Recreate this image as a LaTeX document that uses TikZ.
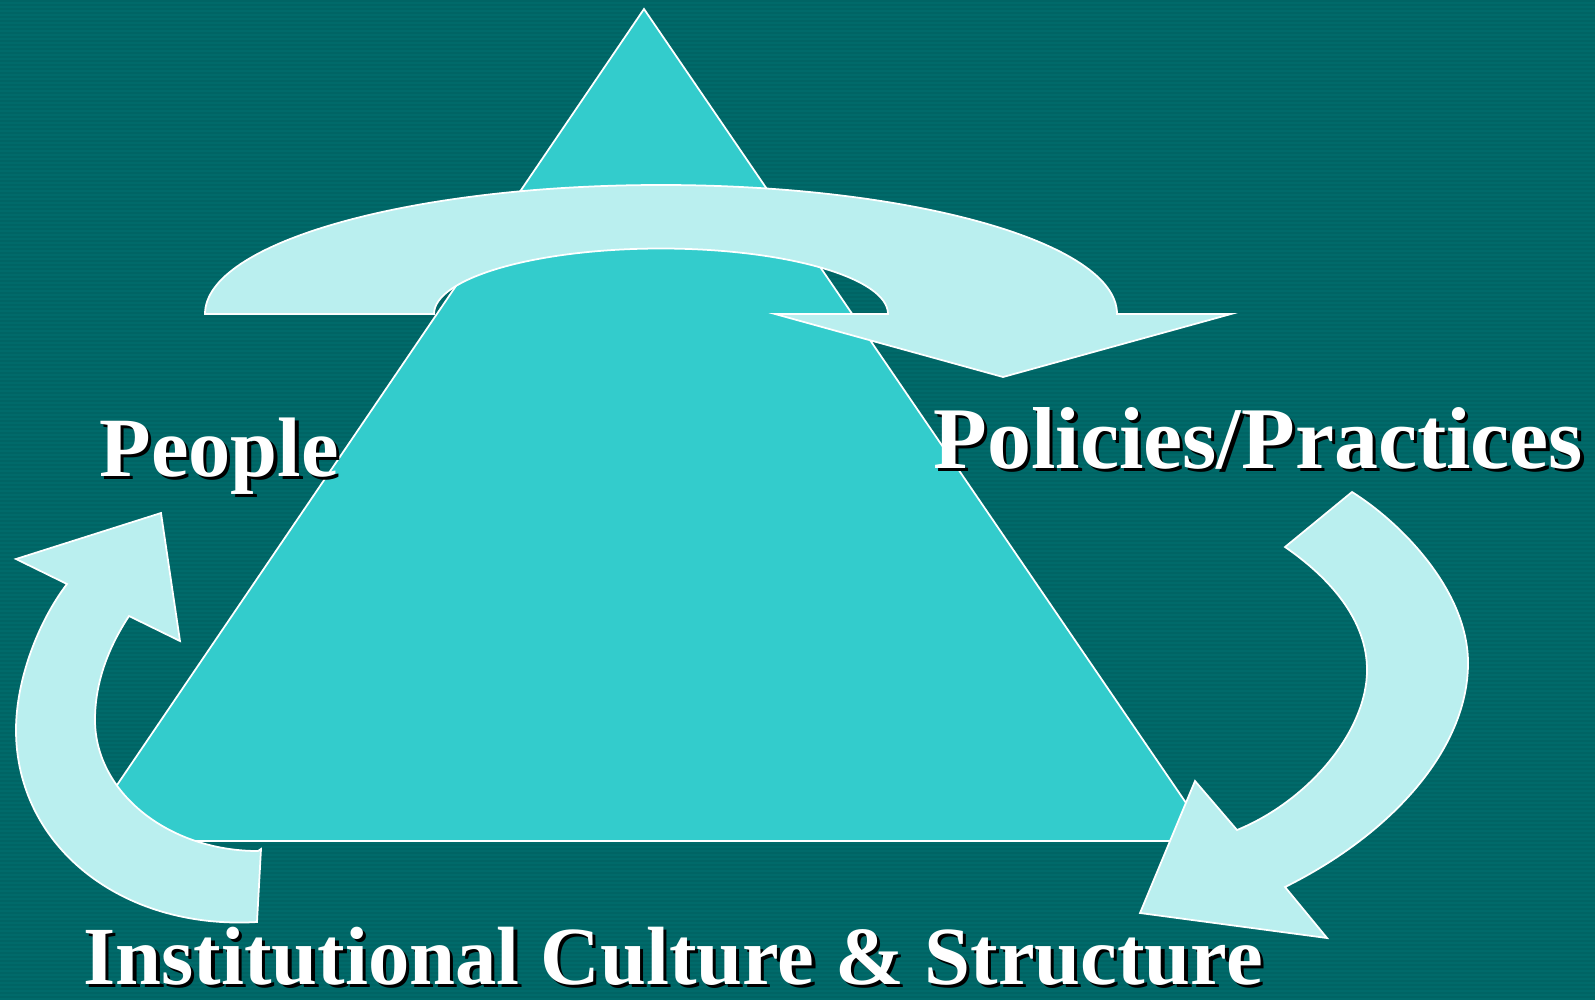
\documentclass[tikz,border=0pt]{standalone}
\usepackage{fontspec}
\setmainfont{Liberation Serif}
\usetikzlibrary{positioning}
\definecolor{bgteal}{RGB}{0,106,106}
\definecolor{bgstripe}{RGB}{0,100,100}
\definecolor{triteal}{RGB}{51,204,204}
\definecolor{arrowpale}{RGB}{186,239,239}
% white text with a black drop shadow
\newcommand{\shadowed}[1]{\makebox[0pt][l]{\hspace{0.9pt}\raisebox{-0.9pt}{\color{black}#1}}#1}
\tikzset{
bigarrow/.style={ % the three pale curved arrows
fill=arrowpale,
draw=white,
line width=0.5pt},
triangle/.style={
fill=triteal,
draw=white,
line width=0.5pt},
tag/.style={ % labels set on their baseline
text=white,
inner sep=0pt,
anchor=base west}}

\begin{document}
\begin{tikzpicture}[x=0.01cm, y=-0.01cm]
	\useasboundingbox (0,0) rectangle (1595,1000);
	\fill[bgteal] (0,0) rectangle (1595,1000);
	\foreach \s in {0,4,...,996}
		\fill[bgstripe] (0,\s) rectangle (1595,\s+2);
	% triangle
	\coordinate (apex) at (644,9);
	\coordinate (bl) at (79,841);
	\coordinate (br) at (1212,841);
	\draw[triangle] (apex) -- (bl) -- (br) -- cycle;
	% top arrow
	\draw[bigarrow] (205,314) .. controls (205,243) and (409,185) .. (661,185)
		.. controls (913,185) and (1117,243) .. (1117,314)
		-- (1231,314) -- (1003,377) -- (775,314) -- (888,314)
		.. controls (888,278) and (786,248.5) .. (661,248.5)
		.. controls (536,248.5) and (434,278) .. (434,314) -- cycle;
	% right arrow
	\draw[bigarrow] (1352,492) .. controls (1400,522) and (1468,590) .. (1468,663)
		.. controls (1468,750) and (1390,835) .. (1285,887)
		-- (1327,938) -- (1140,913) -- (1195,781) -- (1237,830)
		.. controls (1310,800) and (1367,730) .. (1367,670)
		.. controls (1367,620) and (1330,578) .. (1285,547) -- cycle;
	% left arrow
	\draw[bigarrow] (257,922) .. controls (120,930) and (16,845) .. (16,730)
		.. controls (16,680) and (38,622) .. (67,584)
		-- (16,559) -- (161,513) -- (180,641) -- (129,616)
		.. controls (110,645) and (95,680) .. (95,720)
		.. controls (95,792) and (168,851) .. (258,851) -- (261,849) -- cycle;
	% labels
	\node[tag, font=\bfseries\fontsize{24}{28}\selectfont] (people) at (99,476) {\shadowed{People}};
	\node[tag, font=\bfseries\fontsize{25}{30}\selectfont] (policies) at (933,468) {\shadowed{Policies/Practices}};
	\node[tag, font=\bfseries\fontsize{23.5}{28}\selectfont] (culture) at (83,984) {\shadowed{Institutional Culture \& Structure}};
\end{tikzpicture}
\end{document}
